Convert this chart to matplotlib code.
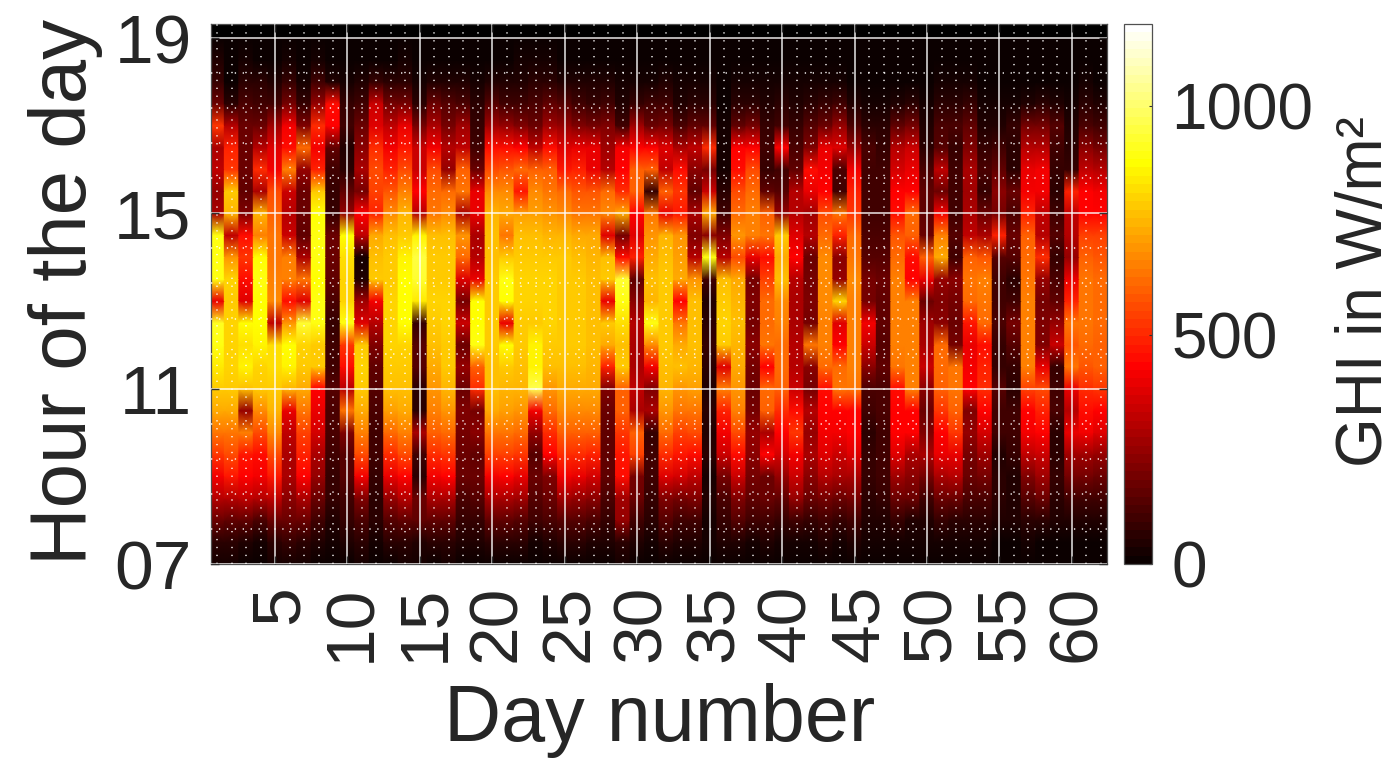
import numpy as np
import matplotlib
matplotlib.use("Agg")
import matplotlib.pyplot as plt
from matplotlib.transforms import ScaledTranslation

# Hours of the rows (07:00 .. 19:00 every half hour), one GHI profile per day in W/m2
hours = [7, 7.5, 8, 8.5, 9, 9.5, 10, 10.5, 11, 11.5, 12, 12.5, 13, 13.5, 14, 14.5, 15, 15.5, 16, 16.5, 17, 17.5, 18, 18.5, 19]
d01 = [25,70,170,300,420,520,640,720,780,830,900,910,400,900,900,900,280,250,330,280,520,180,80,40,10]
d02 = [20,65,160,300,470,560,640,720,790,800,810,800,790,800,700,320,750,780,520,480,300,60,15,5,0]
d03 = [10,40,160,320,430,470,650,250,760,860,820,880,380,450,520,450,220,150,180,170,170,120,60,20,5]
d04 = [10,30,120,300,420,450,560,680,780,800,860,880,880,890,880,650,750,280,500,300,170,100,60,15,5]
d05 = [20,70,180,320,470,570,680,740,790,820,820,330,680,660,640,630,600,570,420,380,260,100,40,10,0]
d06 = [30,90,170,230,280,290,320,400,740,850,880,700,450,650,650,350,300,350,650,450,420,200,90,25,0]
d07 = [20,60,170,290,430,480,550,640,720,790,810,940,380,640,280,150,180,170,240,620,220,90,30,10,0]
d08 = [15,50,100,170,240,280,360,400,430,780,780,890,890,880,890,890,870,780,480,420,500,240,100,30,0]
d09 = [5,20,50,80,90,110,120,120,130,110,110,90,120,160,180,170,90,80,100,150,430,450,40,10,0]
d10 = [15,50,90,110,130,140,220,640,300,450,530,890,800,800,820,880,250,150,60,50,110,80,30,10,0]
d11 = [20,60,120,220,420,570,650,730,780,800,790,380,260,40,20,320,440,200,280,230,180,100,50,15,0]
d12 = [8,30,60,70,80,100,110,120,130,150,220,300,420,780,760,720,480,550,560,500,380,340,80,15,0]
d13 = [15,60,130,240,400,500,620,710,760,790,800,800,800,790,780,760,680,580,480,420,320,190,60,15,0]
d14 = [20,70,160,300,440,560,650,730,770,790,800,870,880,880,860,790,740,660,560,470,400,200,60,20,0]
d15 = [20,40,150,170,60,100,280,60,60,130,140,90,830,930,950,850,300,440,350,340,200,60,25,5,0]
d16 = [15,60,150,280,420,510,600,660,700,720,770,790,800,790,780,760,640,620,560,420,280,170,50,15,0]
d17 = [20,60,150,280,430,520,620,700,750,780,790,800,800,790,780,770,680,620,250,300,200,130,40,10,0]
d18 = [15,40,80,120,170,180,200,220,180,240,180,350,200,370,620,700,280,640,600,330,260,120,50,10,0]
d19 = [10,40,80,140,180,160,230,200,500,600,900,880,880,400,300,280,400,400,180,100,90,60,30,5,0]
d20 = [15,60,160,280,420,540,640,720,760,770,780,780,790,780,770,770,740,680,560,450,260,130,50,15,0]
d21 = [15,60,150,280,430,540,640,710,750,780,880,400,880,890,790,640,720,670,580,450,240,100,40,15,0]
d22 = [15,60,140,270,400,520,620,700,750,770,780,790,800,800,790,770,710,470,620,430,220,100,50,20,0]
d23 = [10,30,100,130,170,130,250,420,960,850,850,790,800,810,790,770,710,680,600,320,170,120,60,20,0]
d24 = [10,40,120,180,220,430,500,620,700,770,790,800,800,800,780,740,690,640,600,460,270,160,60,20,0]
d25 = [12,60,140,270,410,510,600,680,730,770,790,790,790,790,780,750,680,620,470,380,240,130,50,15,0]
d26 = [12,60,140,250,400,500,600,680,730,760,780,780,780,780,760,730,640,580,480,400,220,110,40,15,0]
d27 = [12,50,120,230,360,480,590,670,720,750,760,770,770,770,750,720,630,580,400,400,200,90,40,15,0]
d28 = [10,40,80,120,150,160,160,170,220,480,720,790,400,790,770,380,680,620,300,270,210,100,40,10,0]
d29 = [20,70,240,260,450,470,530,590,600,780,760,820,900,940,450,200,720,500,440,420,100,50,20,5,0]
d30 = [10,40,100,170,200,540,600,280,320,280,280,300,230,150,480,380,430,600,600,430,260,90,30,10,0]
d31 = [8,30,70,90,100,100,90,280,220,420,680,900,750,760,730,700,640,80,600,430,180,100,20,5,0]
d32 = [15,60,140,220,380,500,620,700,750,770,780,780,780,780,760,750,400,600,330,380,200,110,40,15,0]
d33 = [12,50,110,200,360,470,540,640,700,760,720,640,430,720,710,690,470,530,460,280,120,50,20,5,0]
d34 = [12,40,100,210,330,450,560,640,710,750,760,770,760,700,300,220,280,160,230,330,150,60,20,5,0]
d35 = [10,20,30,40,20,60,50,60,40,60,90,70,40,100,900,230,720,350,200,500,150,60,20,5,0]
d36 = [10,40,80,120,200,350,420,480,650,380,780,800,780,770,300,220,100,60,30,30,20,15,10,5,0]
d37 = [12,40,130,220,340,460,570,650,700,730,750,760,750,720,560,700,620,560,450,430,150,60,25,5,0]
d38 = [10,30,100,150,190,230,250,200,180,200,230,200,220,190,400,650,660,620,560,440,200,70,25,5,0]
d39 = [10,40,100,180,170,440,280,600,620,430,630,620,620,550,450,640,600,150,90,100,90,50,20,5,0]
d40 = [5,20,80,150,240,360,430,500,600,620,620,660,680,760,720,780,250,130,110,440,100,60,20,5,0]
d41 = [8,30,110,250,350,420,530,450,350,300,300,290,280,300,430,380,310,300,150,120,80,40,20,5,0]
d42 = [5,20,90,170,230,280,240,300,200,230,640,200,220,200,180,300,260,400,450,220,130,70,30,5,0]
d43 = [10,50,110,190,300,380,420,440,450,610,650,660,680,680,680,620,560,440,420,400,180,80,30,5,0]
d44 = [5,30,90,170,280,340,410,430,630,620,430,370,810,240,230,480,640,100,120,380,250,100,30,5,0]
d45 = [10,40,100,190,280,380,440,440,640,650,660,660,660,670,640,620,520,480,410,240,120,50,15,5,0]
d46 = [3,20,40,60,90,80,60,100,120,230,350,420,200,200,130,120,110,110,110,120,60,25,10,3,0]
d47 = [3,20,40,90,100,100,110,120,120,150,140,160,150,170,140,120,110,110,100,90,60,25,10,3,0]
d48 = [5,25,80,180,260,370,440,430,460,640,650,660,650,660,620,580,460,430,360,300,150,50,15,3,0]
d49 = [5,20,50,170,230,280,430,440,650,660,660,660,650,430,450,600,620,440,400,340,200,70,15,3,0]
d50 = [5,20,50,100,200,280,210,180,230,350,280,260,180,400,600,170,160,150,120,70,40,25,10,3,0]
d51 = [8,30,90,180,290,390,430,520,600,620,620,230,220,240,720,650,420,170,330,130,120,60,20,5,0]
d52 = [5,25,70,180,300,400,520,600,640,630,200,180,190,230,110,130,110,100,100,80,120,60,20,5,0]
d53 = [5,20,60,120,170,200,250,210,440,420,400,470,620,640,600,320,280,270,290,220,150,80,20,5,0]
d54 = [5,20,60,120,190,260,360,440,500,480,450,620,640,650,580,280,180,90,120,90,50,20,10,3,0]
d55 = [3,10,40,60,60,40,100,110,130,90,80,120,100,110,130,480,200,230,150,100,50,20,10,3,0]
d56 = [3,10,40,50,40,80,100,100,60,90,130,200,100,60,130,170,120,170,60,70,90,30,10,3,0]
d57 = [3,20,60,130,220,330,420,430,540,650,650,650,650,640,620,600,480,410,390,300,200,50,15,3,0]
d58 = [3,15,60,170,260,340,440,480,560,400,210,220,200,240,500,310,320,420,420,310,190,60,15,3,0]
d59 = [3,10,40,60,80,60,70,120,100,80,340,240,150,120,90,140,100,70,80,100,130,50,15,3,0]
d60 = [3,15,50,100,190,270,400,300,400,630,580,640,480,400,250,300,320,480,90,60,50,25,10,3,0]
d61 = [3,15,50,110,200,270,420,460,500,580,610,630,630,630,600,550,440,430,330,230,120,60,20,3,0]
d62 = [3,15,40,110,170,240,380,440,520,590,600,610,610,610,580,540,440,420,300,200,100,50,15,3,0]

profiles = [d01, d02, d03, d04, d05, d06, d07, d08, d09, d10, d11, d12, d13, d14, d15, d16,
            d17, d18, d19, d20, d21, d22, d23, d24, d25, d26, d27, d28, d29, d30, d31, d32,
            d33, d34, d35, d36, d37, d38, d39, d40, d41, d42, d43, d44, d45, d46, d47, d48,
            d49, d50, d51, d52, d53, d54, d55, d56, d57, d58, d59, d60, d61, d62]

day_ticks = [5, 10, 15, 20, 25, 30, 35, 40, 45, 50, 55, 60]
hour_ticks = [7, 11, 15, 19]
hour_labels = ["07", "11", "15", "19"]
bar_ticks = [0, 500, 1000]

plt.rcParams["font.family"] = ["Liberation Sans", "DejaVu Sans"]
DARK = "#262626"
W, H = 1394, 758
fig = plt.figure(figsize=(W / 100, H / 100), dpi=100)
ax = fig.add_axes([211 / W, (H - 564) / H, 896 / W, 540 / H])
ax.set_facecolor("black")

days = np.arange(1, len(profiles) + 1)
z = np.array(profiles, dtype=float).T
# every day is one band: the colour runs along the hours, but not across days
x_band = np.column_stack([days - 0.5, days + 0.5]).ravel()
z_band = np.repeat(z, 2, axis=1)
mesh = ax.pcolormesh(x_band, hours, z_band, cmap=plt.get_cmap("hot", 64),
                     vmin=0, vmax=1180, shading="gouraud", rasterized=True)

ax.set_xlim(0.58, 62.42)
ax.set_ylim(7, 19.32)

ax.set_xticks(day_ticks)
ax.set_xticklabels([str(d) for d in day_ticks], rotation=90, fontsize=50, color=DARK)
ax.set_yticks(hour_ticks)
ax.set_yticklabels(hour_labels, fontsize=50, color=DARK)
ax.set_xticks(days, minor=True)
ax.set_yticks(np.arange(7, 19.01, 0.8), minor=True)

ax.set_axisbelow(False)
ax.grid(True, which="major", color="white", lw=1.1, alpha=0.9, zorder=3)
ax.grid(True, which="minor", color="white", lw=1.2, alpha=0.85, linestyle=(0, (0.8, 3.95)), zorder=3)
ax.tick_params(axis="both", which="minor", length=0)
ax.tick_params(axis="both", which="major", direction="in", length=5.8, width=1.0, color="#303030", zorder=5)
ax.tick_params(axis="x", which="major", pad=15, top=True)
ax.tick_params(axis="y", which="major", pad=14, right=True)
for s in ax.spines.values():
    s.set_color("#505050")
    s.set_linewidth(0.9)

shift = ScaledTranslation(5 / 100, 0, fig.dpi_scale_trans)
for lab in ax.get_xticklabels():
    lab.set_transform(lab.get_transform() + shift)

ax.set_xlabel("Day number", fontsize=57, color=DARK)
ax.xaxis.set_label_coords(660 / W, 1 - 720 / H, transform=fig.transFigure)
ax.xaxis.label.set_va("center")
ax.set_ylabel("Hour of the day", fontsize=57.5, color=DARK)
ax.yaxis.set_label_coords(66 / W, 1 - 292 / H, transform=fig.transFigure)
ax.yaxis.label.set_va("center")

cax = fig.add_axes([1124 / W, (H - 564) / H, 28 / W, 540 / H])
cb = fig.colorbar(mesh, cax=cax)
cb.set_ticks(bar_ticks)
cb.ax.tick_params(labelsize=46, labelcolor=DARK, length=2.5, width=0.8, direction="in", color="#303030", pad=14)
cb.outline.set_edgecolor("#505050")
cb.outline.set_linewidth(0.9)
cb.set_label("GHI in W/m²", fontsize=46, color=DARK)
cb.ax.yaxis.set_label_coords(1365 / W, 1 - 292 / H, transform=fig.transFigure)
cb.ax.yaxis.label.set_va("center")

fig.savefig("out.png", dpi=100, facecolor="white")
